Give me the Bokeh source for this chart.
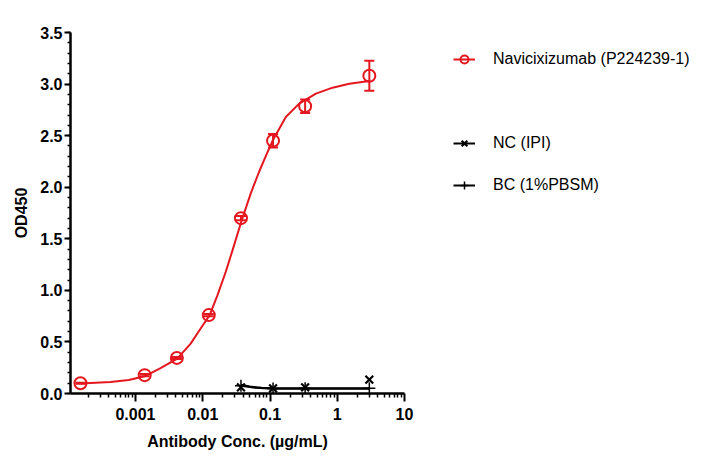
from bokeh.embed import file_html
from bokeh.layouts import row
from bokeh.models import (
    ColumnDataSource,
    CustomJSTickFormatter,
    FixedTicker,
    Legend,
    LegendItem,
    NumeralTickFormatter,
    Range1d,
    SingleIntervalTicker,
    TeeHead,
    Whisker,
)
from bokeh.plotting import figure
from bokeh.resources import INLINE

# measured points, Navicixizumab (P224239-1)
navi_conc = [3.0, 0.333, 0.111, 0.037, 0.0123, 0.00412, 0.00137, 0.000152]
navi_od = [3.08, 2.785, 2.45, 1.70, 0.76, 0.345, 0.178, 0.10]
navi_sd = [0.145, 0.065, 0.065, 0.02, 0.01, 0.01, 0.01, 0.005]

# fitted curve
navi_fit_conc = [0.000152, 0.000424, 0.000794, 0.00141, 0.00236, 0.00418, 0.00661, 0.00931,
                 0.01268, 0.01652, 0.02193, 0.02761, 0.03758, 0.05176, 0.06887, 0.08913,
                 0.1112, 0.1718, 0.2716, 0.4819, 0.8531, 1.51, 3.0]
navi_fit_od = [0.097, 0.112, 0.13, 0.17, 0.245, 0.338, 0.484, 0.63,
               0.76, 0.952, 1.178, 1.385, 1.67, 1.94, 2.15, 2.32,
               2.46, 2.68, 2.81, 2.907, 2.965, 3.004, 3.03]

# negative control and blank
nc_conc = [0.037, 0.111, 0.333, 3.0]
nc_od = [0.06, 0.05, 0.06, 0.135]
nc_fit_conc = [0.037, 0.05, 0.075, 0.111, 0.333, 3.0]
nc_fit_od = [0.085, 0.068, 0.055, 0.05, 0.05, 0.05]

bc_conc = [0.037, 0.111, 0.333, 3.0]
bc_od = [0.075, 0.048, 0.05, 0.05]
bc_fit_conc = [0.037, 0.06, 0.111, 0.333, 3.0]
bc_fit_od = [0.075, 0.055, 0.046, 0.045, 0.045]

series_labels = ["Navicixizumab (P224239-1)", "NC (IPI)", "BC (1%PBSM)"]

x_major = [0.001, 0.01, 0.1, 1, 10]
x_minor = [m * 10.0 ** e for e in range(-4, 1) for m in range(2, 10)]

RED = "#e4171f"
FONT = "Liberation Sans"

NAVI_LINE = dict(line_color=RED, line_width=2, line_join="round")
NAVI_MARK = dict(marker="circle", size=12, line_color=RED, line_width=2, fill_color=None)
NC_LINE = dict(line_color="black", line_width=2, line_join="round")
NC_MARK = dict(marker="x", size=11, line_color="black", line_width=2.2)
BC_LINE = dict(line_color="black", line_width=2, line_join="round")
BC_MARK = dict(marker="cross", size=12, line_color="black", line_width=1.5)


def draw_series(fig):
    """Draw the three series on fig and return (line, marker) pairs."""
    out = []
    for cx, cy, px, py, ls, ms in (
        (navi_fit_conc, navi_fit_od, navi_conc, navi_od, NAVI_LINE, NAVI_MARK),
        (nc_fit_conc, nc_fit_od, nc_conc, nc_od, NC_LINE, NC_MARK),
        (bc_fit_conc, bc_fit_od, bc_conc, bc_od, BC_LINE, BC_MARK),
    ):
        out.append((fig.line(cx, cy, **ls), fig.scatter(px, py, **ms)))
    return out


p = figure(
    width=420,
    height=455,
    x_axis_type="log",
    x_range=Range1d(1.08e-4, 10),
    y_range=Range1d(0, 3.5),
    output_backend="svg",
    toolbar_location=None,
    min_border_left=70,
    min_border_right=16,
    min_border_top=32,
    min_border_bottom=62,
)
p.outline_line_color = None
p.xgrid.visible = False
p.ygrid.visible = False

# error bars
err = ColumnDataSource(dict(
    x=navi_conc,
    upper=[v + s for v, s in zip(navi_od, navi_sd)],
    lower=[v - s for v, s in zip(navi_od, navi_sd)],
))
p.add_layout(Whisker(
    source=err, base="x", upper="upper", lower="lower",
    line_color=RED, line_width=2,
    upper_head=TeeHead(size=10, line_color=RED, line_width=2),
    lower_head=TeeHead(size=10, line_color=RED, line_width=2),
))

draw_series(p)

# axes
xa = p.xaxis[0]
xa.ticker = FixedTicker(ticks=x_major, minor_ticks=x_minor)
xa.formatter = CustomJSTickFormatter(code="return tick.toString();")
xa.axis_label = "Antibody Conc. (µg/mL)"

ya = p.yaxis[0]
ya.ticker = SingleIntervalTicker(interval=0.5, num_minor_ticks=5)
ya.formatter = NumeralTickFormatter(format="0.0")
ya.axis_label = "OD450"

for ax in (xa, ya):
    ax.axis_line_color = "black"
    ax.axis_line_width = 2.5
    ax.major_tick_line_color = "black"
    ax.major_tick_line_width = 2
    ax.minor_tick_line_color = "black"
    ax.minor_tick_line_width = 1.5
    ax.major_tick_in = 0
    ax.minor_tick_in = 0
    ax.major_label_text_font = FONT
    ax.major_label_text_font_style = "bold"
    ax.major_label_text_font_size = "16px"
    ax.major_label_text_color = "black"
    ax.axis_label_text_font = FONT
    ax.axis_label_text_font_style = "bold"
    ax.axis_label_text_font_size = "16px"
    ax.axis_label_text_color = "black"

xa.major_tick_out = 8
xa.minor_tick_out = 4
xa.major_label_standoff = 6
xa.axis_label_standoff = 10
ya.major_tick_out = 6
ya.minor_tick_out = 3
ya.major_label_standoff = 2
ya.axis_label_standoff = 7

# legend lives in its own figure to the right; its ranges keep the data out of view
q = figure(
    width=290,
    height=455,
    x_range=Range1d(-2, -1),
    y_range=Range1d(-2, -1),
    x_axis_location=None,
    y_axis_location=None,
    output_backend="svg",
    toolbar_location=None,
    min_border=0,
)
q.outline_line_color = None
q.xgrid.visible = False
q.ygrid.visible = False

(navi_l, navi_m), (nc_l, nc_m), (bc_l, bc_m) = draw_series(q)
gap = q.line(nc_fit_conc, nc_fit_od, line_alpha=0)

legend = Legend(
    items=[
        LegendItem(label=series_labels[0], renderers=[navi_l, navi_m]),
        LegendItem(label=" ", renderers=[gap]),
        LegendItem(label=series_labels[1], renderers=[nc_l, nc_m]),
        LegendItem(label=series_labels[2], renderers=[bc_l, bc_m]),
    ],
    location=(33, 198),
    border_line_color=None,
    background_fill_alpha=0,
    padding=0,
    margin=0,
    spacing=22,
    glyph_width=22,
    glyph_height=20,
    label_height=20,
    label_standoff=18,
    label_text_font=FONT,
    label_text_font_size="16px",
    label_text_color="black",
)
q.add_layout(legend)

layout = row(p, q)
open("out.html", "w").write(file_html(layout, INLINE))
